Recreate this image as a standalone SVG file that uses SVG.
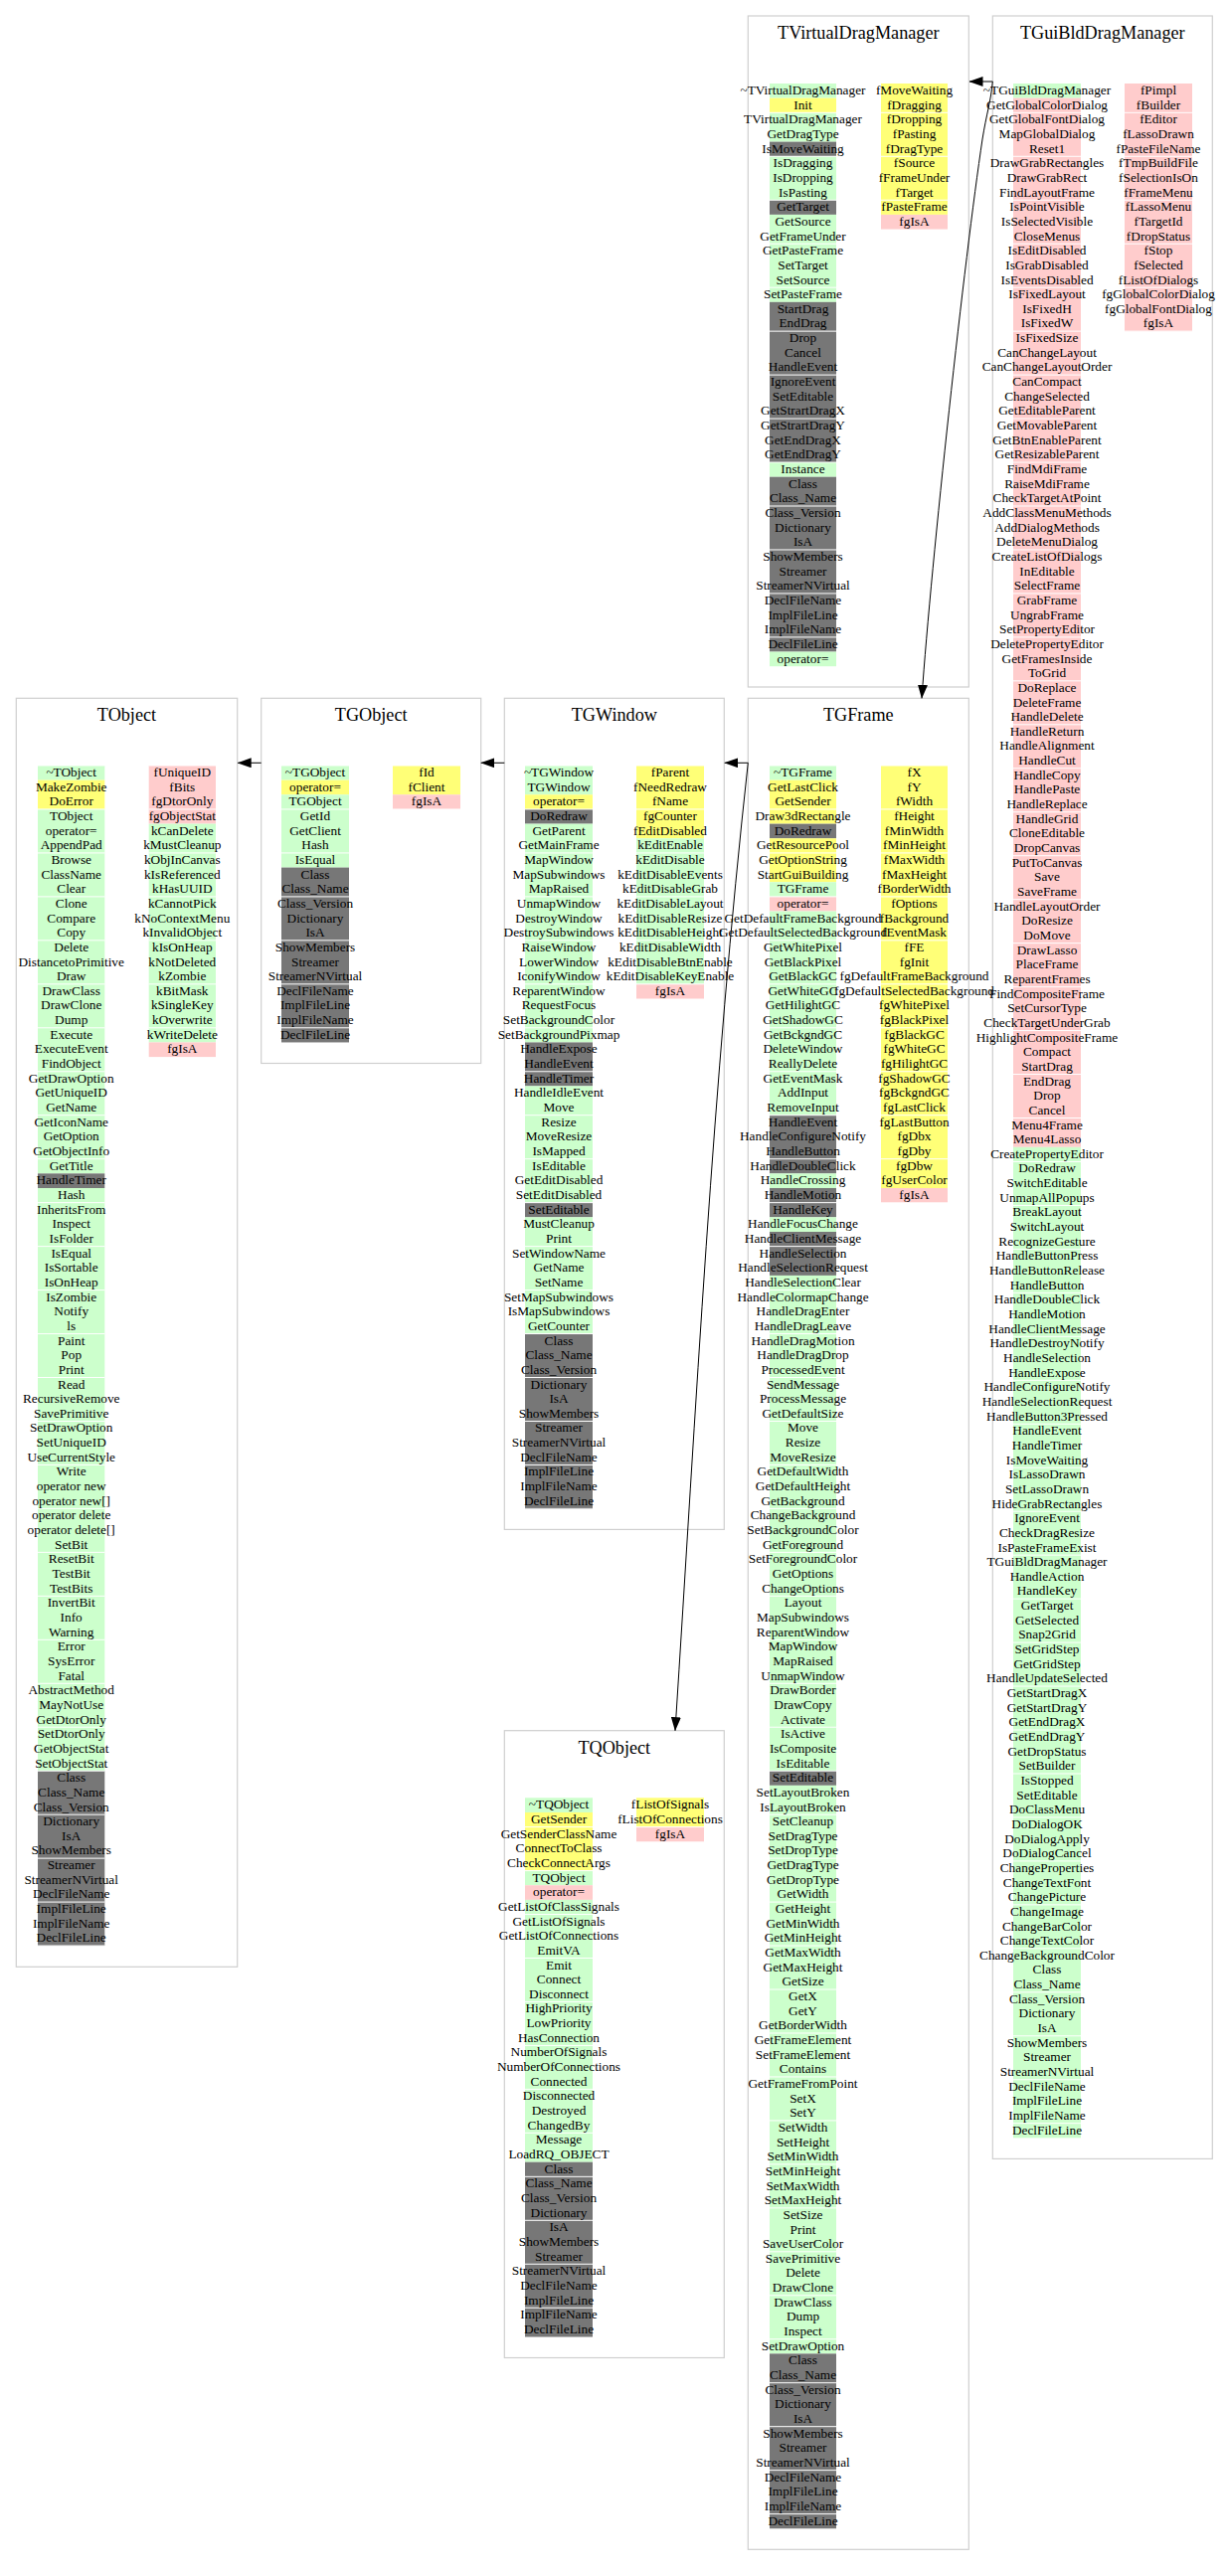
<svg xmlns="http://www.w3.org/2000/svg" width="1235" height="2591" viewBox="0 0 1235 2591">
<style>
.box{fill:#fff;stroke:#cfcfcf;stroke-width:1.2}
.t{font-family:"Liberation Serif","Times New Roman",serif;font-size:18.2px;text-anchor:middle;fill:#000}
.r{font-family:"Liberation Serif","Times New Roman",serif;font-size:13.3px;text-anchor:middle;fill:#000}
.g{fill:#ccffcc}.y{fill:#ffff77}.p{fill:#ffcccc}.d{fill:#777777}
.sa{fill:url(#sa)}.sb{fill:url(#sb)}.sc{fill:url(#sc)}
.edge{fill:none;stroke:#000;stroke-width:1}
</style>
<defs>
<pattern id="sa" patternUnits="userSpaceOnUse" x="0" y="24.88" width="10" height="43.965"><rect width="10" height="1" fill="#fff"/></pattern>
<pattern id="sb" patternUnits="userSpaceOnUse" x="0" y="22.095" width="10" height="43.965"><rect width="10" height="1" fill="#fff"/></pattern>
<pattern id="sc" patternUnits="userSpaceOnUse" x="0" y="34.545" width="10" height="43.965"><rect width="10" height="1" fill="#fff"/></pattern>
<marker id="ah" markerUnits="userSpaceOnUse" viewBox="0 0 14 10" markerWidth="14" markerHeight="10" refX="13.5" refY="5" orient="auto"><path d="M0,0 L14,5 L0,10 z" fill="#000"/></marker>
</defs>
<rect width="1235" height="2591" fill="#fff"/>

<g id="TVirtualDragManager">
<rect class="box" x="752.3" y="16" width="222" height="675"/>
<text class="t" x="863.3" y="39">TVirtualDragManager</text>
<rect class="g" x="774" y="84" width="67" height="14.655"/>
<rect class="y" x="774" y="98.655" width="67" height="14.655"/>
<rect class="g" x="774" y="113.31" width="67" height="29.31"/>
<rect class="d" x="774" y="142.62" width="67" height="14.655"/>
<rect class="g" x="774" y="157.275" width="67" height="43.965"/>
<rect class="d" x="774" y="201.24" width="67" height="14.655"/>
<rect class="g" x="774" y="215.895" width="67" height="87.93"/>
<rect class="d" x="774" y="303.825" width="67" height="161.205"/>
<rect class="g" x="774" y="465.03" width="67" height="14.655"/>
<rect class="d" x="774" y="479.685" width="67" height="175.86"/>
<rect class="g" x="774" y="655.545" width="67" height="14.655"/>
<rect class="sa" x="774" y="84" width="67" height="586.2"/>
<rect class="y" x="886" y="84" width="67" height="131.895"/>
<rect class="p" x="886" y="215.895" width="67" height="14.655"/>
<rect class="sa" x="886" y="84" width="67" height="146.55"/>
<text class="r" y="95"><tspan x="807.5">~TVirtualDragManager</tspan><tspan x="807.5" dy="14.655">Init</tspan><tspan x="807.5" dy="14.655">TVirtualDragManager</tspan><tspan x="807.5" dy="14.655">GetDragType</tspan><tspan x="807.5" dy="14.655">IsMoveWaiting</tspan><tspan x="807.5" dy="14.655">IsDragging</tspan><tspan x="807.5" dy="14.655">IsDropping</tspan><tspan x="807.5" dy="14.655">IsPasting</tspan><tspan x="807.5" dy="14.655">GetTarget</tspan><tspan x="807.5" dy="14.655">GetSource</tspan><tspan x="807.5" dy="14.655">GetFrameUnder</tspan><tspan x="807.5" dy="14.655">GetPasteFrame</tspan><tspan x="807.5" dy="14.655">SetTarget</tspan><tspan x="807.5" dy="14.655">SetSource</tspan><tspan x="807.5" dy="14.655">SetPasteFrame</tspan><tspan x="807.5" dy="14.655">StartDrag</tspan><tspan x="807.5" dy="14.655">EndDrag</tspan><tspan x="807.5" dy="14.655">Drop</tspan><tspan x="807.5" dy="14.655">Cancel</tspan><tspan x="807.5" dy="14.655">HandleEvent</tspan><tspan x="807.5" dy="14.655">IgnoreEvent</tspan><tspan x="807.5" dy="14.655">SetEditable</tspan><tspan x="807.5" dy="14.655">GetStrartDragX</tspan><tspan x="807.5" dy="14.655">GetStrartDragY</tspan><tspan x="807.5" dy="14.655">GetEndDragX</tspan><tspan x="807.5" dy="14.655">GetEndDragY</tspan><tspan x="807.5" dy="14.655">Instance</tspan><tspan x="807.5" dy="14.655">Class</tspan><tspan x="807.5" dy="14.655">Class_Name</tspan><tspan x="807.5" dy="14.655">Class_Version</tspan><tspan x="807.5" dy="14.655">Dictionary</tspan><tspan x="807.5" dy="14.655">IsA</tspan><tspan x="807.5" dy="14.655">ShowMembers</tspan><tspan x="807.5" dy="14.655">Streamer</tspan><tspan x="807.5" dy="14.655">StreamerNVirtual</tspan><tspan x="807.5" dy="14.655">DeclFileName</tspan><tspan x="807.5" dy="14.655">ImplFileLine</tspan><tspan x="807.5" dy="14.655">ImplFileName</tspan><tspan x="807.5" dy="14.655">DeclFileLine</tspan><tspan x="807.5" dy="14.655">operator=</tspan></text>
<text class="r" y="95"><tspan x="919.5">fMoveWaiting</tspan><tspan x="919.5" dy="14.655">fDragging</tspan><tspan x="919.5" dy="14.655">fDropping</tspan><tspan x="919.5" dy="14.655">fPasting</tspan><tspan x="919.5" dy="14.655">fDragType</tspan><tspan x="919.5" dy="14.655">fSource</tspan><tspan x="919.5" dy="14.655">fFrameUnder</tspan><tspan x="919.5" dy="14.655">fTarget</tspan><tspan x="919.5" dy="14.655">fPasteFrame</tspan><tspan x="919.5" dy="14.655">fgIsA</tspan></text>
</g>

<g id="TGuiBldDragManager">
<rect class="box" x="998.3" y="16" width="221" height="2155.4"/>
<text class="t" x="1108.8" y="39">TGuiBldDragManager</text>
<rect class="g" x="1019" y="84" width="68" height="14.655"/>
<rect class="p" x="1019" y="98.655" width="68" height="1055.16"/>
<rect class="g" x="1019" y="1153.815" width="68" height="996.54"/>
<rect class="sa" x="1019" y="84" width="68" height="2066.4"/>
<rect class="p" x="1131" y="84" width="68" height="249.135"/>
<rect class="sa" x="1131" y="84" width="68" height="249.135"/>
<text class="r" y="95"><tspan x="1053">~TGuiBldDragManager</tspan><tspan x="1053" dy="14.655">GetGlobalColorDialog</tspan><tspan x="1053" dy="14.655">GetGlobalFontDialog</tspan><tspan x="1053" dy="14.655">MapGlobalDialog</tspan><tspan x="1053" dy="14.655">Reset1</tspan><tspan x="1053" dy="14.655">DrawGrabRectangles</tspan><tspan x="1053" dy="14.655">DrawGrabRect</tspan><tspan x="1053" dy="14.655">FindLayoutFrame</tspan><tspan x="1053" dy="14.655">IsPointVisible</tspan><tspan x="1053" dy="14.655">IsSelectedVisible</tspan><tspan x="1053" dy="14.655">CloseMenus</tspan><tspan x="1053" dy="14.655">IsEditDisabled</tspan><tspan x="1053" dy="14.655">IsGrabDisabled</tspan><tspan x="1053" dy="14.655">IsEventsDisabled</tspan><tspan x="1053" dy="14.655">IsFixedLayout</tspan><tspan x="1053" dy="14.655">IsFixedH</tspan><tspan x="1053" dy="14.655">IsFixedW</tspan><tspan x="1053" dy="14.655">IsFixedSize</tspan><tspan x="1053" dy="14.655">CanChangeLayout</tspan><tspan x="1053" dy="14.655">CanChangeLayoutOrder</tspan><tspan x="1053" dy="14.655">CanCompact</tspan><tspan x="1053" dy="14.655">ChangeSelected</tspan><tspan x="1053" dy="14.655">GetEditableParent</tspan><tspan x="1053" dy="14.655">GetMovableParent</tspan><tspan x="1053" dy="14.655">GetBtnEnableParent</tspan><tspan x="1053" dy="14.655">GetResizableParent</tspan><tspan x="1053" dy="14.655">FindMdiFrame</tspan><tspan x="1053" dy="14.655">RaiseMdiFrame</tspan><tspan x="1053" dy="14.655">CheckTargetAtPoint</tspan><tspan x="1053" dy="14.655">AddClassMenuMethods</tspan><tspan x="1053" dy="14.655">AddDialogMethods</tspan><tspan x="1053" dy="14.655">DeleteMenuDialog</tspan><tspan x="1053" dy="14.655">CreateListOfDialogs</tspan><tspan x="1053" dy="14.655">InEditable</tspan><tspan x="1053" dy="14.655">SelectFrame</tspan><tspan x="1053" dy="14.655">GrabFrame</tspan><tspan x="1053" dy="14.655">UngrabFrame</tspan><tspan x="1053" dy="14.655">SetPropertyEditor</tspan><tspan x="1053" dy="14.655">DeletePropertyEditor</tspan><tspan x="1053" dy="14.655">GetFramesInside</tspan><tspan x="1053" dy="14.655">ToGrid</tspan><tspan x="1053" dy="14.655">DoReplace</tspan><tspan x="1053" dy="14.655">DeleteFrame</tspan><tspan x="1053" dy="14.655">HandleDelete</tspan><tspan x="1053" dy="14.655">HandleReturn</tspan><tspan x="1053" dy="14.655">HandleAlignment</tspan><tspan x="1053" dy="14.655">HandleCut</tspan><tspan x="1053" dy="14.655">HandleCopy</tspan><tspan x="1053" dy="14.655">HandlePaste</tspan><tspan x="1053" dy="14.655">HandleReplace</tspan><tspan x="1053" dy="14.655">HandleGrid</tspan><tspan x="1053" dy="14.655">CloneEditable</tspan><tspan x="1053" dy="14.655">DropCanvas</tspan><tspan x="1053" dy="14.655">PutToCanvas</tspan><tspan x="1053" dy="14.655">Save</tspan><tspan x="1053" dy="14.655">SaveFrame</tspan><tspan x="1053" dy="14.655">HandleLayoutOrder</tspan><tspan x="1053" dy="14.655">DoResize</tspan><tspan x="1053" dy="14.655">DoMove</tspan><tspan x="1053" dy="14.655">DrawLasso</tspan><tspan x="1053" dy="14.655">PlaceFrame</tspan><tspan x="1053" dy="14.655">ReparentFrames</tspan><tspan x="1053" dy="14.655">FindCompositeFrame</tspan><tspan x="1053" dy="14.655">SetCursorType</tspan><tspan x="1053" dy="14.655">CheckTargetUnderGrab</tspan><tspan x="1053" dy="14.655">HighlightCompositeFrame</tspan><tspan x="1053" dy="14.655">Compact</tspan><tspan x="1053" dy="14.655">StartDrag</tspan><tspan x="1053" dy="14.655">EndDrag</tspan><tspan x="1053" dy="14.655">Drop</tspan><tspan x="1053" dy="14.655">Cancel</tspan><tspan x="1053" dy="14.655">Menu4Frame</tspan><tspan x="1053" dy="14.655">Menu4Lasso</tspan><tspan x="1053" dy="14.655">CreatePropertyEditor</tspan><tspan x="1053" dy="14.655">DoRedraw</tspan><tspan x="1053" dy="14.655">SwitchEditable</tspan><tspan x="1053" dy="14.655">UnmapAllPopups</tspan><tspan x="1053" dy="14.655">BreakLayout</tspan><tspan x="1053" dy="14.655">SwitchLayout</tspan><tspan x="1053" dy="14.655">RecognizeGesture</tspan><tspan x="1053" dy="14.655">HandleButtonPress</tspan><tspan x="1053" dy="14.655">HandleButtonRelease</tspan><tspan x="1053" dy="14.655">HandleButton</tspan><tspan x="1053" dy="14.655">HandleDoubleClick</tspan><tspan x="1053" dy="14.655">HandleMotion</tspan><tspan x="1053" dy="14.655">HandleClientMessage</tspan><tspan x="1053" dy="14.655">HandleDestroyNotify</tspan><tspan x="1053" dy="14.655">HandleSelection</tspan><tspan x="1053" dy="14.655">HandleExpose</tspan><tspan x="1053" dy="14.655">HandleConfigureNotify</tspan><tspan x="1053" dy="14.655">HandleSelectionRequest</tspan><tspan x="1053" dy="14.655">HandleButton3Pressed</tspan><tspan x="1053" dy="14.655">HandleEvent</tspan><tspan x="1053" dy="14.655">HandleTimer</tspan><tspan x="1053" dy="14.655">IsMoveWaiting</tspan><tspan x="1053" dy="14.655">IsLassoDrawn</tspan><tspan x="1053" dy="14.655">SetLassoDrawn</tspan><tspan x="1053" dy="14.655">HideGrabRectangles</tspan><tspan x="1053" dy="14.655">IgnoreEvent</tspan><tspan x="1053" dy="14.655">CheckDragResize</tspan><tspan x="1053" dy="14.655">IsPasteFrameExist</tspan><tspan x="1053" dy="14.655">TGuiBldDragManager</tspan><tspan x="1053" dy="14.655">HandleAction</tspan><tspan x="1053" dy="14.655">HandleKey</tspan><tspan x="1053" dy="14.655">GetTarget</tspan><tspan x="1053" dy="14.655">GetSelected</tspan><tspan x="1053" dy="14.655">Snap2Grid</tspan><tspan x="1053" dy="14.655">SetGridStep</tspan><tspan x="1053" dy="14.655">GetGridStep</tspan><tspan x="1053" dy="14.655">HandleUpdateSelected</tspan><tspan x="1053" dy="14.655">GetStartDragX</tspan><tspan x="1053" dy="14.655">GetStartDragY</tspan><tspan x="1053" dy="14.655">GetEndDragX</tspan><tspan x="1053" dy="14.655">GetEndDragY</tspan><tspan x="1053" dy="14.655">GetDropStatus</tspan><tspan x="1053" dy="14.655">SetBuilder</tspan><tspan x="1053" dy="14.655">IsStopped</tspan><tspan x="1053" dy="14.655">SetEditable</tspan><tspan x="1053" dy="14.655">DoClassMenu</tspan><tspan x="1053" dy="14.655">DoDialogOK</tspan><tspan x="1053" dy="14.655">DoDialogApply</tspan><tspan x="1053" dy="14.655">DoDialogCancel</tspan><tspan x="1053" dy="14.655">ChangeProperties</tspan><tspan x="1053" dy="14.655">ChangeTextFont</tspan><tspan x="1053" dy="14.655">ChangePicture</tspan><tspan x="1053" dy="14.655">ChangeImage</tspan><tspan x="1053" dy="14.655">ChangeBarColor</tspan><tspan x="1053" dy="14.655">ChangeTextColor</tspan><tspan x="1053" dy="14.655">ChangeBackgroundColor</tspan><tspan x="1053" dy="14.655">Class</tspan><tspan x="1053" dy="14.655">Class_Name</tspan><tspan x="1053" dy="14.655">Class_Version</tspan><tspan x="1053" dy="14.655">Dictionary</tspan><tspan x="1053" dy="14.655">IsA</tspan><tspan x="1053" dy="14.655">ShowMembers</tspan><tspan x="1053" dy="14.655">Streamer</tspan><tspan x="1053" dy="14.655">StreamerNVirtual</tspan><tspan x="1053" dy="14.655">DeclFileName</tspan><tspan x="1053" dy="14.655">ImplFileLine</tspan><tspan x="1053" dy="14.655">ImplFileName</tspan><tspan x="1053" dy="14.655">DeclFileLine</tspan></text>
<text class="r" y="95"><tspan x="1165">fPimpl</tspan><tspan x="1165" dy="14.655">fBuilder</tspan><tspan x="1165" dy="14.655">fEditor</tspan><tspan x="1165" dy="14.655">fLassoDrawn</tspan><tspan x="1165" dy="14.655">fPasteFileName</tspan><tspan x="1165" dy="14.655">fTmpBuildFile</tspan><tspan x="1165" dy="14.655">fSelectionIsOn</tspan><tspan x="1165" dy="14.655">fFrameMenu</tspan><tspan x="1165" dy="14.655">fLassoMenu</tspan><tspan x="1165" dy="14.655">fTargetId</tspan><tspan x="1165" dy="14.655">fDropStatus</tspan><tspan x="1165" dy="14.655">fStop</tspan><tspan x="1165" dy="14.655">fSelected</tspan><tspan x="1165" dy="14.655">fListOfDialogs</tspan><tspan x="1165" dy="14.655">fgGlobalColorDialog</tspan><tspan x="1165" dy="14.655">fgGlobalFontDialog</tspan><tspan x="1165" dy="14.655">fgIsA</tspan></text>
</g>

<g id="TObject">
<rect class="box" x="16.3" y="702.3" width="222.4" height="1276"/>
<text class="t" x="127.5" y="725">TObject</text>
<rect class="g" x="38" y="770" width="67.3" height="14.655"/>
<rect class="y" x="38" y="784.655" width="67.3" height="29.31"/>
<rect class="g" x="38" y="813.965" width="67.3" height="366.375"/>
<rect class="d" x="38" y="1180.34" width="67.3" height="14.655"/>
<rect class="g" x="38" y="1194.995" width="67.3" height="586.2"/>
<rect class="d" x="38" y="1781.195" width="67.3" height="175.86"/>
<rect class="sb" x="38" y="770" width="67.3" height="1187.06"/>
<rect class="p" x="149.7" y="770" width="67.3" height="58.62"/>
<rect class="g" x="149.7" y="828.62" width="67.3" height="219.825"/>
<rect class="p" x="149.7" y="1048.445" width="67.3" height="14.655"/>
<rect class="sb" x="149.7" y="770" width="67.3" height="293.1"/>
<text class="r" y="781"><tspan x="71.7">~TObject</tspan><tspan x="71.7" dy="14.655">MakeZombie</tspan><tspan x="71.7" dy="14.655">DoError</tspan><tspan x="71.7" dy="14.655">TObject</tspan><tspan x="71.7" dy="14.655">operator=</tspan><tspan x="71.7" dy="14.655">AppendPad</tspan><tspan x="71.7" dy="14.655">Browse</tspan><tspan x="71.7" dy="14.655">ClassName</tspan><tspan x="71.7" dy="14.655">Clear</tspan><tspan x="71.7" dy="14.655">Clone</tspan><tspan x="71.7" dy="14.655">Compare</tspan><tspan x="71.7" dy="14.655">Copy</tspan><tspan x="71.7" dy="14.655">Delete</tspan><tspan x="71.7" dy="14.655">DistancetoPrimitive</tspan><tspan x="71.7" dy="14.655">Draw</tspan><tspan x="71.7" dy="14.655">DrawClass</tspan><tspan x="71.7" dy="14.655">DrawClone</tspan><tspan x="71.7" dy="14.655">Dump</tspan><tspan x="71.7" dy="14.655">Execute</tspan><tspan x="71.7" dy="14.655">ExecuteEvent</tspan><tspan x="71.7" dy="14.655">FindObject</tspan><tspan x="71.7" dy="14.655">GetDrawOption</tspan><tspan x="71.7" dy="14.655">GetUniqueID</tspan><tspan x="71.7" dy="14.655">GetName</tspan><tspan x="71.7" dy="14.655">GetIconName</tspan><tspan x="71.7" dy="14.655">GetOption</tspan><tspan x="71.7" dy="14.655">GetObjectInfo</tspan><tspan x="71.7" dy="14.655">GetTitle</tspan><tspan x="71.7" dy="14.655">HandleTimer</tspan><tspan x="71.7" dy="14.655">Hash</tspan><tspan x="71.7" dy="14.655">InheritsFrom</tspan><tspan x="71.7" dy="14.655">Inspect</tspan><tspan x="71.7" dy="14.655">IsFolder</tspan><tspan x="71.7" dy="14.655">IsEqual</tspan><tspan x="71.7" dy="14.655">IsSortable</tspan><tspan x="71.7" dy="14.655">IsOnHeap</tspan><tspan x="71.7" dy="14.655">IsZombie</tspan><tspan x="71.7" dy="14.655">Notify</tspan><tspan x="71.7" dy="14.655">ls</tspan><tspan x="71.7" dy="14.655">Paint</tspan><tspan x="71.7" dy="14.655">Pop</tspan><tspan x="71.7" dy="14.655">Print</tspan><tspan x="71.7" dy="14.655">Read</tspan><tspan x="71.7" dy="14.655">RecursiveRemove</tspan><tspan x="71.7" dy="14.655">SavePrimitive</tspan><tspan x="71.7" dy="14.655">SetDrawOption</tspan><tspan x="71.7" dy="14.655">SetUniqueID</tspan><tspan x="71.7" dy="14.655">UseCurrentStyle</tspan><tspan x="71.7" dy="14.655">Write</tspan><tspan x="71.7" dy="14.655">operator new</tspan><tspan x="71.7" dy="14.655">operator new[]</tspan><tspan x="71.7" dy="14.655">operator delete</tspan><tspan x="71.7" dy="14.655">operator delete[]</tspan><tspan x="71.7" dy="14.655">SetBit</tspan><tspan x="71.7" dy="14.655">ResetBit</tspan><tspan x="71.7" dy="14.655">TestBit</tspan><tspan x="71.7" dy="14.655">TestBits</tspan><tspan x="71.7" dy="14.655">InvertBit</tspan><tspan x="71.7" dy="14.655">Info</tspan><tspan x="71.7" dy="14.655">Warning</tspan><tspan x="71.7" dy="14.655">Error</tspan><tspan x="71.7" dy="14.655">SysError</tspan><tspan x="71.7" dy="14.655">Fatal</tspan><tspan x="71.7" dy="14.655">AbstractMethod</tspan><tspan x="71.7" dy="14.655">MayNotUse</tspan><tspan x="71.7" dy="14.655">GetDtorOnly</tspan><tspan x="71.7" dy="14.655">SetDtorOnly</tspan><tspan x="71.7" dy="14.655">GetObjectStat</tspan><tspan x="71.7" dy="14.655">SetObjectStat</tspan><tspan x="71.7" dy="14.655">Class</tspan><tspan x="71.7" dy="14.655">Class_Name</tspan><tspan x="71.7" dy="14.655">Class_Version</tspan><tspan x="71.7" dy="14.655">Dictionary</tspan><tspan x="71.7" dy="14.655">IsA</tspan><tspan x="71.7" dy="14.655">ShowMembers</tspan><tspan x="71.7" dy="14.655">Streamer</tspan><tspan x="71.7" dy="14.655">StreamerNVirtual</tspan><tspan x="71.7" dy="14.655">DeclFileName</tspan><tspan x="71.7" dy="14.655">ImplFileLine</tspan><tspan x="71.7" dy="14.655">ImplFileName</tspan><tspan x="71.7" dy="14.655">DeclFileLine</tspan></text>
<text class="r" y="781"><tspan x="183.3">fUniqueID</tspan><tspan x="183.3" dy="14.655">fBits</tspan><tspan x="183.3" dy="14.655">fgDtorOnly</tspan><tspan x="183.3" dy="14.655">fgObjectStat</tspan><tspan x="183.3" dy="14.655">kCanDelete</tspan><tspan x="183.3" dy="14.655">kMustCleanup</tspan><tspan x="183.3" dy="14.655">kObjInCanvas</tspan><tspan x="183.3" dy="14.655">kIsReferenced</tspan><tspan x="183.3" dy="14.655">kHasUUID</tspan><tspan x="183.3" dy="14.655">kCannotPick</tspan><tspan x="183.3" dy="14.655">kNoContextMenu</tspan><tspan x="183.3" dy="14.655">kInvalidObject</tspan><tspan x="183.3" dy="14.655">kIsOnHeap</tspan><tspan x="183.3" dy="14.655">kNotDeleted</tspan><tspan x="183.3" dy="14.655">kZombie</tspan><tspan x="183.3" dy="14.655">kBitMask</tspan><tspan x="183.3" dy="14.655">kSingleKey</tspan><tspan x="183.3" dy="14.655">kOverwrite</tspan><tspan x="183.3" dy="14.655">kWriteDelete</tspan><tspan x="183.3" dy="14.655">fgIsA</tspan></text>
</g>

<g id="TGObject">
<rect class="box" x="262.7" y="702.3" width="221" height="367.2"/>
<text class="t" x="373.2" y="725">TGObject</text>
<rect class="g" x="283" y="770" width="68" height="14.655"/>
<rect class="y" x="283" y="784.655" width="68" height="14.655"/>
<rect class="g" x="283" y="799.31" width="68" height="73.275"/>
<rect class="d" x="283" y="872.585" width="68" height="175.86"/>
<rect class="sb" x="283" y="770" width="68" height="278.445"/>
<rect class="y" x="395" y="770" width="68" height="29.31"/>
<rect class="p" x="395" y="799.31" width="68" height="14.655"/>
<rect class="sb" x="395" y="770" width="68" height="43.965"/>
<text class="r" y="781"><tspan x="317">~TGObject</tspan><tspan x="317" dy="14.655">operator=</tspan><tspan x="317" dy="14.655">TGObject</tspan><tspan x="317" dy="14.655">GetId</tspan><tspan x="317" dy="14.655">GetClient</tspan><tspan x="317" dy="14.655">Hash</tspan><tspan x="317" dy="14.655">IsEqual</tspan><tspan x="317" dy="14.655">Class</tspan><tspan x="317" dy="14.655">Class_Name</tspan><tspan x="317" dy="14.655">Class_Version</tspan><tspan x="317" dy="14.655">Dictionary</tspan><tspan x="317" dy="14.655">IsA</tspan><tspan x="317" dy="14.655">ShowMembers</tspan><tspan x="317" dy="14.655">Streamer</tspan><tspan x="317" dy="14.655">StreamerNVirtual</tspan><tspan x="317" dy="14.655">DeclFileName</tspan><tspan x="317" dy="14.655">ImplFileLine</tspan><tspan x="317" dy="14.655">ImplFileName</tspan><tspan x="317" dy="14.655">DeclFileLine</tspan></text>
<text class="r" y="781"><tspan x="429">fId</tspan><tspan x="429" dy="14.655">fClient</tspan><tspan x="429" dy="14.655">fgIsA</tspan></text>
</g>

<g id="TGWindow">
<rect class="box" x="507.3" y="702.3" width="221" height="836.1"/>
<text class="t" x="617.8" y="725">TGWindow</text>
<rect class="g" x="528" y="770" width="68" height="29.31"/>
<rect class="y" x="528" y="799.31" width="68" height="14.655"/>
<rect class="d" x="528" y="813.965" width="68" height="14.655"/>
<rect class="g" x="528" y="828.62" width="68" height="219.825"/>
<rect class="d" x="528" y="1048.445" width="68" height="43.965"/>
<rect class="g" x="528" y="1092.41" width="68" height="117.24"/>
<rect class="d" x="528" y="1209.65" width="68" height="14.655"/>
<rect class="g" x="528" y="1224.305" width="68" height="117.24"/>
<rect class="d" x="528" y="1341.545" width="68" height="175.86"/>
<rect class="sb" x="528" y="770" width="68" height="747.405"/>
<rect class="y" x="640" y="770" width="68" height="73.275"/>
<rect class="g" x="640" y="843.275" width="68" height="146.55"/>
<rect class="p" x="640" y="989.825" width="68" height="14.655"/>
<rect class="sb" x="640" y="770" width="68" height="234.48"/>
<text class="r" y="781"><tspan x="562">~TGWindow</tspan><tspan x="562" dy="14.655">TGWindow</tspan><tspan x="562" dy="14.655">operator=</tspan><tspan x="562" dy="14.655">DoRedraw</tspan><tspan x="562" dy="14.655">GetParent</tspan><tspan x="562" dy="14.655">GetMainFrame</tspan><tspan x="562" dy="14.655">MapWindow</tspan><tspan x="562" dy="14.655">MapSubwindows</tspan><tspan x="562" dy="14.655">MapRaised</tspan><tspan x="562" dy="14.655">UnmapWindow</tspan><tspan x="562" dy="14.655">DestroyWindow</tspan><tspan x="562" dy="14.655">DestroySubwindows</tspan><tspan x="562" dy="14.655">RaiseWindow</tspan><tspan x="562" dy="14.655">LowerWindow</tspan><tspan x="562" dy="14.655">IconifyWindow</tspan><tspan x="562" dy="14.655">ReparentWindow</tspan><tspan x="562" dy="14.655">RequestFocus</tspan><tspan x="562" dy="14.655">SetBackgroundColor</tspan><tspan x="562" dy="14.655">SetBackgroundPixmap</tspan><tspan x="562" dy="14.655">HandleExpose</tspan><tspan x="562" dy="14.655">HandleEvent</tspan><tspan x="562" dy="14.655">HandleTimer</tspan><tspan x="562" dy="14.655">HandleIdleEvent</tspan><tspan x="562" dy="14.655">Move</tspan><tspan x="562" dy="14.655">Resize</tspan><tspan x="562" dy="14.655">MoveResize</tspan><tspan x="562" dy="14.655">IsMapped</tspan><tspan x="562" dy="14.655">IsEditable</tspan><tspan x="562" dy="14.655">GetEditDisabled</tspan><tspan x="562" dy="14.655">SetEditDisabled</tspan><tspan x="562" dy="14.655">SetEditable</tspan><tspan x="562" dy="14.655">MustCleanup</tspan><tspan x="562" dy="14.655">Print</tspan><tspan x="562" dy="14.655">SetWindowName</tspan><tspan x="562" dy="14.655">GetName</tspan><tspan x="562" dy="14.655">SetName</tspan><tspan x="562" dy="14.655">SetMapSubwindows</tspan><tspan x="562" dy="14.655">IsMapSubwindows</tspan><tspan x="562" dy="14.655">GetCounter</tspan><tspan x="562" dy="14.655">Class</tspan><tspan x="562" dy="14.655">Class_Name</tspan><tspan x="562" dy="14.655">Class_Version</tspan><tspan x="562" dy="14.655">Dictionary</tspan><tspan x="562" dy="14.655">IsA</tspan><tspan x="562" dy="14.655">ShowMembers</tspan><tspan x="562" dy="14.655">Streamer</tspan><tspan x="562" dy="14.655">StreamerNVirtual</tspan><tspan x="562" dy="14.655">DeclFileName</tspan><tspan x="562" dy="14.655">ImplFileLine</tspan><tspan x="562" dy="14.655">ImplFileName</tspan><tspan x="562" dy="14.655">DeclFileLine</tspan></text>
<text class="r" y="781"><tspan x="674">fParent</tspan><tspan x="674" dy="14.655">fNeedRedraw</tspan><tspan x="674" dy="14.655">fName</tspan><tspan x="674" dy="14.655">fgCounter</tspan><tspan x="674" dy="14.655">fEditDisabled</tspan><tspan x="674" dy="14.655">kEditEnable</tspan><tspan x="674" dy="14.655">kEditDisable</tspan><tspan x="674" dy="14.655">kEditDisableEvents</tspan><tspan x="674" dy="14.655">kEditDisableGrab</tspan><tspan x="674" dy="14.655">kEditDisableLayout</tspan><tspan x="674" dy="14.655">kEditDisableResize</tspan><tspan x="674" dy="14.655">kEditDisableHeight</tspan><tspan x="674" dy="14.655">kEditDisableWidth</tspan><tspan x="674" dy="14.655">kEditDisableBtnEnable</tspan><tspan x="674" dy="14.655">kEditDisableKeyEnable</tspan><tspan x="674" dy="14.655">fgIsA</tspan></text>
</g>

<g id="TGFrame">
<rect class="box" x="752.3" y="702.3" width="222" height="1862"/>
<text class="t" x="863.3" y="725">TGFrame</text>
<rect class="g" x="774" y="770" width="67" height="14.655"/>
<rect class="y" x="774" y="784.655" width="67" height="43.965"/>
<rect class="d" x="774" y="828.62" width="67" height="14.655"/>
<rect class="y" x="774" y="843.275" width="67" height="43.965"/>
<rect class="g" x="774" y="887.24" width="67" height="14.655"/>
<rect class="p" x="774" y="901.895" width="67" height="14.655"/>
<rect class="g" x="774" y="916.55" width="67" height="205.17"/>
<rect class="d" x="774" y="1121.72" width="67" height="58.62"/>
<rect class="g" x="774" y="1180.34" width="67" height="14.655"/>
<rect class="d" x="774" y="1194.995" width="67" height="29.31"/>
<rect class="g" x="774" y="1224.305" width="67" height="14.655"/>
<rect class="d" x="774" y="1238.96" width="67" height="43.965"/>
<rect class="g" x="774" y="1282.925" width="67" height="498.27"/>
<rect class="d" x="774" y="1781.195" width="67" height="14.655"/>
<rect class="g" x="774" y="1795.85" width="67" height="571.545"/>
<rect class="d" x="774" y="2367.395" width="67" height="175.86"/>
<rect class="sb" x="774" y="770" width="67" height="1773.255"/>
<rect class="y" x="886" y="770" width="67" height="424.995"/>
<rect class="p" x="886" y="1194.995" width="67" height="14.655"/>
<rect class="sb" x="886" y="770" width="67" height="439.65"/>
<text class="r" y="781"><tspan x="807.5">~TGFrame</tspan><tspan x="807.5" dy="14.655">GetLastClick</tspan><tspan x="807.5" dy="14.655">GetSender</tspan><tspan x="807.5" dy="14.655">Draw3dRectangle</tspan><tspan x="807.5" dy="14.655">DoRedraw</tspan><tspan x="807.5" dy="14.655">GetResourcePool</tspan><tspan x="807.5" dy="14.655">GetOptionString</tspan><tspan x="807.5" dy="14.655">StartGuiBuilding</tspan><tspan x="807.5" dy="14.655">TGFrame</tspan><tspan x="807.5" dy="14.655">operator=</tspan><tspan x="807.5" dy="14.655">GetDefaultFrameBackground</tspan><tspan x="807.5" dy="14.655">GetDefaultSelectedBackground</tspan><tspan x="807.5" dy="14.655">GetWhitePixel</tspan><tspan x="807.5" dy="14.655">GetBlackPixel</tspan><tspan x="807.5" dy="14.655">GetBlackGC</tspan><tspan x="807.5" dy="14.655">GetWhiteGC</tspan><tspan x="807.5" dy="14.655">GetHilightGC</tspan><tspan x="807.5" dy="14.655">GetShadowGC</tspan><tspan x="807.5" dy="14.655">GetBckgndGC</tspan><tspan x="807.5" dy="14.655">DeleteWindow</tspan><tspan x="807.5" dy="14.655">ReallyDelete</tspan><tspan x="807.5" dy="14.655">GetEventMask</tspan><tspan x="807.5" dy="14.655">AddInput</tspan><tspan x="807.5" dy="14.655">RemoveInput</tspan><tspan x="807.5" dy="14.655">HandleEvent</tspan><tspan x="807.5" dy="14.655">HandleConfigureNotify</tspan><tspan x="807.5" dy="14.655">HandleButton</tspan><tspan x="807.5" dy="14.655">HandleDoubleClick</tspan><tspan x="807.5" dy="14.655">HandleCrossing</tspan><tspan x="807.5" dy="14.655">HandleMotion</tspan><tspan x="807.5" dy="14.655">HandleKey</tspan><tspan x="807.5" dy="14.655">HandleFocusChange</tspan><tspan x="807.5" dy="14.655">HandleClientMessage</tspan><tspan x="807.5" dy="14.655">HandleSelection</tspan><tspan x="807.5" dy="14.655">HandleSelectionRequest</tspan><tspan x="807.5" dy="14.655">HandleSelectionClear</tspan><tspan x="807.5" dy="14.655">HandleColormapChange</tspan><tspan x="807.5" dy="14.655">HandleDragEnter</tspan><tspan x="807.5" dy="14.655">HandleDragLeave</tspan><tspan x="807.5" dy="14.655">HandleDragMotion</tspan><tspan x="807.5" dy="14.655">HandleDragDrop</tspan><tspan x="807.5" dy="14.655">ProcessedEvent</tspan><tspan x="807.5" dy="14.655">SendMessage</tspan><tspan x="807.5" dy="14.655">ProcessMessage</tspan><tspan x="807.5" dy="14.655">GetDefaultSize</tspan><tspan x="807.5" dy="14.655">Move</tspan><tspan x="807.5" dy="14.655">Resize</tspan><tspan x="807.5" dy="14.655">MoveResize</tspan><tspan x="807.5" dy="14.655">GetDefaultWidth</tspan><tspan x="807.5" dy="14.655">GetDefaultHeight</tspan><tspan x="807.5" dy="14.655">GetBackground</tspan><tspan x="807.5" dy="14.655">ChangeBackground</tspan><tspan x="807.5" dy="14.655">SetBackgroundColor</tspan><tspan x="807.5" dy="14.655">GetForeground</tspan><tspan x="807.5" dy="14.655">SetForegroundColor</tspan><tspan x="807.5" dy="14.655">GetOptions</tspan><tspan x="807.5" dy="14.655">ChangeOptions</tspan><tspan x="807.5" dy="14.655">Layout</tspan><tspan x="807.5" dy="14.655">MapSubwindows</tspan><tspan x="807.5" dy="14.655">ReparentWindow</tspan><tspan x="807.5" dy="14.655">MapWindow</tspan><tspan x="807.5" dy="14.655">MapRaised</tspan><tspan x="807.5" dy="14.655">UnmapWindow</tspan><tspan x="807.5" dy="14.655">DrawBorder</tspan><tspan x="807.5" dy="14.655">DrawCopy</tspan><tspan x="807.5" dy="14.655">Activate</tspan><tspan x="807.5" dy="14.655">IsActive</tspan><tspan x="807.5" dy="14.655">IsComposite</tspan><tspan x="807.5" dy="14.655">IsEditable</tspan><tspan x="807.5" dy="14.655">SetEditable</tspan><tspan x="807.5" dy="14.655">SetLayoutBroken</tspan><tspan x="807.5" dy="14.655">IsLayoutBroken</tspan><tspan x="807.5" dy="14.655">SetCleanup</tspan><tspan x="807.5" dy="14.655">SetDragType</tspan><tspan x="807.5" dy="14.655">SetDropType</tspan><tspan x="807.5" dy="14.655">GetDragType</tspan><tspan x="807.5" dy="14.655">GetDropType</tspan><tspan x="807.5" dy="14.655">GetWidth</tspan><tspan x="807.5" dy="14.655">GetHeight</tspan><tspan x="807.5" dy="14.655">GetMinWidth</tspan><tspan x="807.5" dy="14.655">GetMinHeight</tspan><tspan x="807.5" dy="14.655">GetMaxWidth</tspan><tspan x="807.5" dy="14.655">GetMaxHeight</tspan><tspan x="807.5" dy="14.655">GetSize</tspan><tspan x="807.5" dy="14.655">GetX</tspan><tspan x="807.5" dy="14.655">GetY</tspan><tspan x="807.5" dy="14.655">GetBorderWidth</tspan><tspan x="807.5" dy="14.655">GetFrameElement</tspan><tspan x="807.5" dy="14.655">SetFrameElement</tspan><tspan x="807.5" dy="14.655">Contains</tspan><tspan x="807.5" dy="14.655">GetFrameFromPoint</tspan><tspan x="807.5" dy="14.655">SetX</tspan><tspan x="807.5" dy="14.655">SetY</tspan><tspan x="807.5" dy="14.655">SetWidth</tspan><tspan x="807.5" dy="14.655">SetHeight</tspan><tspan x="807.5" dy="14.655">SetMinWidth</tspan><tspan x="807.5" dy="14.655">SetMinHeight</tspan><tspan x="807.5" dy="14.655">SetMaxWidth</tspan><tspan x="807.5" dy="14.655">SetMaxHeight</tspan><tspan x="807.5" dy="14.655">SetSize</tspan><tspan x="807.5" dy="14.655">Print</tspan><tspan x="807.5" dy="14.655">SaveUserColor</tspan><tspan x="807.5" dy="14.655">SavePrimitive</tspan><tspan x="807.5" dy="14.655">Delete</tspan><tspan x="807.5" dy="14.655">DrawClone</tspan><tspan x="807.5" dy="14.655">DrawClass</tspan><tspan x="807.5" dy="14.655">Dump</tspan><tspan x="807.5" dy="14.655">Inspect</tspan><tspan x="807.5" dy="14.655">SetDrawOption</tspan><tspan x="807.5" dy="14.655">Class</tspan><tspan x="807.5" dy="14.655">Class_Name</tspan><tspan x="807.5" dy="14.655">Class_Version</tspan><tspan x="807.5" dy="14.655">Dictionary</tspan><tspan x="807.5" dy="14.655">IsA</tspan><tspan x="807.5" dy="14.655">ShowMembers</tspan><tspan x="807.5" dy="14.655">Streamer</tspan><tspan x="807.5" dy="14.655">StreamerNVirtual</tspan><tspan x="807.5" dy="14.655">DeclFileName</tspan><tspan x="807.5" dy="14.655">ImplFileLine</tspan><tspan x="807.5" dy="14.655">ImplFileName</tspan><tspan x="807.5" dy="14.655">DeclFileLine</tspan></text>
<text class="r" y="781"><tspan x="919.5">fX</tspan><tspan x="919.5" dy="14.655">fY</tspan><tspan x="919.5" dy="14.655">fWidth</tspan><tspan x="919.5" dy="14.655">fHeight</tspan><tspan x="919.5" dy="14.655">fMinWidth</tspan><tspan x="919.5" dy="14.655">fMinHeight</tspan><tspan x="919.5" dy="14.655">fMaxWidth</tspan><tspan x="919.5" dy="14.655">fMaxHeight</tspan><tspan x="919.5" dy="14.655">fBorderWidth</tspan><tspan x="919.5" dy="14.655">fOptions</tspan><tspan x="919.5" dy="14.655">fBackground</tspan><tspan x="919.5" dy="14.655">fEventMask</tspan><tspan x="919.5" dy="14.655">fFE</tspan><tspan x="919.5" dy="14.655">fgInit</tspan><tspan x="919.5" dy="14.655">fgDefaultFrameBackground</tspan><tspan x="919.5" dy="14.655">fgDefaultSelectedBackground</tspan><tspan x="919.5" dy="14.655">fgWhitePixel</tspan><tspan x="919.5" dy="14.655">fgBlackPixel</tspan><tspan x="919.5" dy="14.655">fgBlackGC</tspan><tspan x="919.5" dy="14.655">fgWhiteGC</tspan><tspan x="919.5" dy="14.655">fgHilightGC</tspan><tspan x="919.5" dy="14.655">fgShadowGC</tspan><tspan x="919.5" dy="14.655">fgBckgndGC</tspan><tspan x="919.5" dy="14.655">fgLastClick</tspan><tspan x="919.5" dy="14.655">fgLastButton</tspan><tspan x="919.5" dy="14.655">fgDbx</tspan><tspan x="919.5" dy="14.655">fgDby</tspan><tspan x="919.5" dy="14.655">fgDbw</tspan><tspan x="919.5" dy="14.655">fgUserColor</tspan><tspan x="919.5" dy="14.655">fgIsA</tspan></text>
</g>

<g id="TQObject">
<rect class="box" x="507.3" y="1740.7" width="221" height="630.8"/>
<text class="t" x="617.8" y="1763.5">TQObject</text>
<rect class="g" x="528" y="1808.3" width="68" height="14.655"/>
<rect class="y" x="528" y="1822.955" width="68" height="58.62"/>
<rect class="g" x="528" y="1881.575" width="68" height="14.655"/>
<rect class="p" x="528" y="1896.23" width="68" height="14.655"/>
<rect class="g" x="528" y="1910.885" width="68" height="263.79"/>
<rect class="d" x="528" y="2174.675" width="68" height="175.86"/>
<rect class="sc" x="528" y="1808.3" width="68" height="542.235"/>
<rect class="y" x="640" y="1808.3" width="68" height="29.31"/>
<rect class="p" x="640" y="1837.61" width="68" height="14.655"/>
<rect class="sc" x="640" y="1808.3" width="68" height="43.965"/>
<text class="r" y="1819.3"><tspan x="562">~TQObject</tspan><tspan x="562" dy="14.655">GetSender</tspan><tspan x="562" dy="14.655">GetSenderClassName</tspan><tspan x="562" dy="14.655">ConnectToClass</tspan><tspan x="562" dy="14.655">CheckConnectArgs</tspan><tspan x="562" dy="14.655">TQObject</tspan><tspan x="562" dy="14.655">operator=</tspan><tspan x="562" dy="14.655">GetListOfClassSignals</tspan><tspan x="562" dy="14.655">GetListOfSignals</tspan><tspan x="562" dy="14.655">GetListOfConnections</tspan><tspan x="562" dy="14.655">EmitVA</tspan><tspan x="562" dy="14.655">Emit</tspan><tspan x="562" dy="14.655">Connect</tspan><tspan x="562" dy="14.655">Disconnect</tspan><tspan x="562" dy="14.655">HighPriority</tspan><tspan x="562" dy="14.655">LowPriority</tspan><tspan x="562" dy="14.655">HasConnection</tspan><tspan x="562" dy="14.655">NumberOfSignals</tspan><tspan x="562" dy="14.655">NumberOfConnections</tspan><tspan x="562" dy="14.655">Connected</tspan><tspan x="562" dy="14.655">Disconnected</tspan><tspan x="562" dy="14.655">Destroyed</tspan><tspan x="562" dy="14.655">ChangedBy</tspan><tspan x="562" dy="14.655">Message</tspan><tspan x="562" dy="14.655">LoadRQ_OBJECT</tspan><tspan x="562" dy="14.655">Class</tspan><tspan x="562" dy="14.655">Class_Name</tspan><tspan x="562" dy="14.655">Class_Version</tspan><tspan x="562" dy="14.655">Dictionary</tspan><tspan x="562" dy="14.655">IsA</tspan><tspan x="562" dy="14.655">ShowMembers</tspan><tspan x="562" dy="14.655">Streamer</tspan><tspan x="562" dy="14.655">StreamerNVirtual</tspan><tspan x="562" dy="14.655">DeclFileName</tspan><tspan x="562" dy="14.655">ImplFileLine</tspan><tspan x="562" dy="14.655">ImplFileName</tspan><tspan x="562" dy="14.655">DeclFileLine</tspan></text>
<text class="r" y="1819.3"><tspan x="674">fListOfSignals</tspan><tspan x="674" dy="14.655">fListOfConnections</tspan><tspan x="674" dy="14.655">fgIsA</tspan></text>
</g>

<g id="connectors">
<path class="edge" d="M998.3,82 L975,82" marker-end="url(#ah)"/>
<path class="edge" d="M998.3,82 C996.5,102 992,115 988,140 C970,260 937,560 927,702.3" marker-end="url(#ah)"/>
<path class="edge" d="M752.3,767.3 L728.8,767.3" marker-end="url(#ah)"/>
<path class="edge" d="M507.3,767.3 L483.8,767.3" marker-end="url(#ah)"/>
<path class="edge" d="M262.7,767.3 L239.2,767.3" marker-end="url(#ah)"/>
<path class="edge" d="M752.3,767.3 C716.7,1091 700,1416 679,1740.7" marker-end="url(#ah)"/>
</g>
</svg>
